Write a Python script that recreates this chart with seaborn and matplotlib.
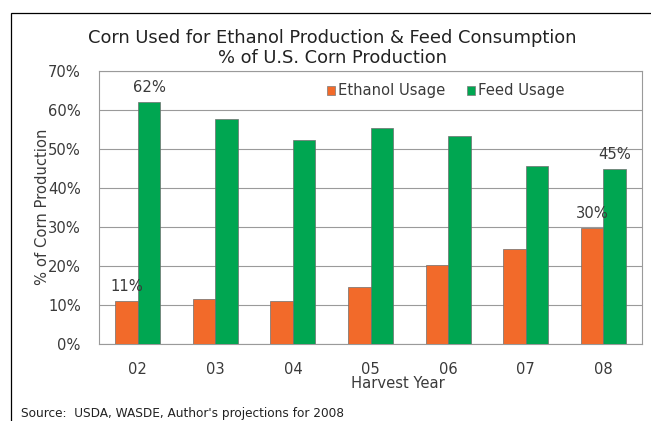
import seaborn as sns
import matplotlib.pyplot as plt
import pandas as pd
from matplotlib.patches import Patch, Rectangle

years = ["02", "03", "04", "05", "06", "07", "08"]
ethanol = [11.2, 11.7, 11.2, 14.6, 20.2, 24.5, 29.8]
feed = [62.1, 57.6, 52.3, 55.3, 53.2, 45.5, 44.9]
series = ["Ethanol Usage", "Feed Usage"]
colors = ["#F26A2A", "#00A651"]
# bars that carry a value label: (series, year)
labelled = [("Ethanol Usage", "02"), ("Feed Usage", "02"),
            ("Ethanol Usage", "08"), ("Feed Usage", "08")]

df = pd.DataFrame({
    "year": years * 2,
    "value": ethanol + feed,
    "series": [series[0]] * len(years) + [series[1]] * len(years),
})

sns.set_style("white")
plt.rcParams["font.family"] = ["DejaVu Sans"]

grey = "#9a9a9a"
txt = "#3a3a3a"
fs = 10.6

fig = plt.figure(figsize=(6.51, 4.21), dpi=100)
ax = fig.add_axes([99 / 651, 1 - 344.3 / 421, 543 / 651, 273.6 / 421])

sns.barplot(data=df, x="year", y="value", hue="series", palette=colors,
            saturation=1, width=0.58, edgecolor="#6e6e6e", linewidth=0.5, ax=ax,
            legend=False, zorder=3)

ax.set_ylim(0, 70)
ax.set_xlim(-0.5, len(years) - 0.5)
ax.set_yticks(range(0, 71, 10))
ax.set_yticklabels([f"{v}%" for v in range(0, 71, 10)])
ax.yaxis.grid(True, color=grey, linewidth=0.8, zorder=0)
ax.set_axisbelow(True)

ax.set_xticks(range(len(years)), minor=False)
ax.set_xticks([i - 0.5 for i in range(len(years) + 1)], minor=True)
ax.tick_params(axis="x", which="major", length=0, pad=13, labelsize=fs, labelcolor=txt)
ax.tick_params(axis="x", which="minor", length=5, color=grey, width=0.8, direction="out")
ax.tick_params(axis="y", length=6, color=grey, width=0.8, direction="out", pad=7,
               labelsize=fs, labelcolor=txt)
for s in ax.spines.values():
    s.set_color(grey)
    s.set_linewidth(0.8)

ax.set_xlabel("")
ax.set_ylabel("")
fig.text(398 / 651, 1 - 384 / 421, "Harvest Year", ha="center", va="center",
         fontsize=fs, color=txt)
fig.text(43 / 651, 1 - 207 / 421, "% of Corn Production", ha="center", va="center",
         rotation=90, fontsize=fs, color=txt)

# value labels
vals = {series[0]: ethanol, series[1]: feed}
off = {series[0]: -0.145, series[1]: 0.145}
for s, y in labelled:
    i = years.index(y)
    v = vals[s][i]
    ax.annotate(f"{v:.0f}%", xy=(i + off[s], v), xytext=(0, 5),
                textcoords="offset points", ha="center", va="bottom",
                fontsize=fs, color=txt, zorder=5)

handles = [Patch(facecolor=c, edgecolor="#7a7a7a", linewidth=0.5) for c in colors]
ax.legend(handles, series, loc="center left", bbox_to_anchor=(0.395, 0.926),
          ncol=2, frameon=False, handlelength=0.55, handleheight=0.55,
          handletextpad=0.2, columnspacing=1.5, fontsize=fs, labelcolor=txt)

fig.text(332 / 651, 1 - 38 / 421, "Corn Used for Ethanol Production & Feed Consumption",
         ha="center", va="center", fontsize=12.85, color="#222222")
fig.text(332 / 651, 1 - 58 / 421, "% of U.S. Corn Production",
         ha="center", va="center", fontsize=12.85, color="#222222")

fig.text(21 / 651, 1 - 413 / 421, "Source:  USDA, WASDE, Author's projections for 2008",
         ha="left", va="center", fontsize=8.7, color="#222222")

# outer frame (top and left edges visible)
fig.patches.append(Rectangle((11 / 651, -0.1), 1.2, 1 - 12.5 / 421 + 0.1,
                             transform=fig.transFigure, fill=False,
                             edgecolor="black", linewidth=0.9))

fig.savefig("out.png", dpi=100)
